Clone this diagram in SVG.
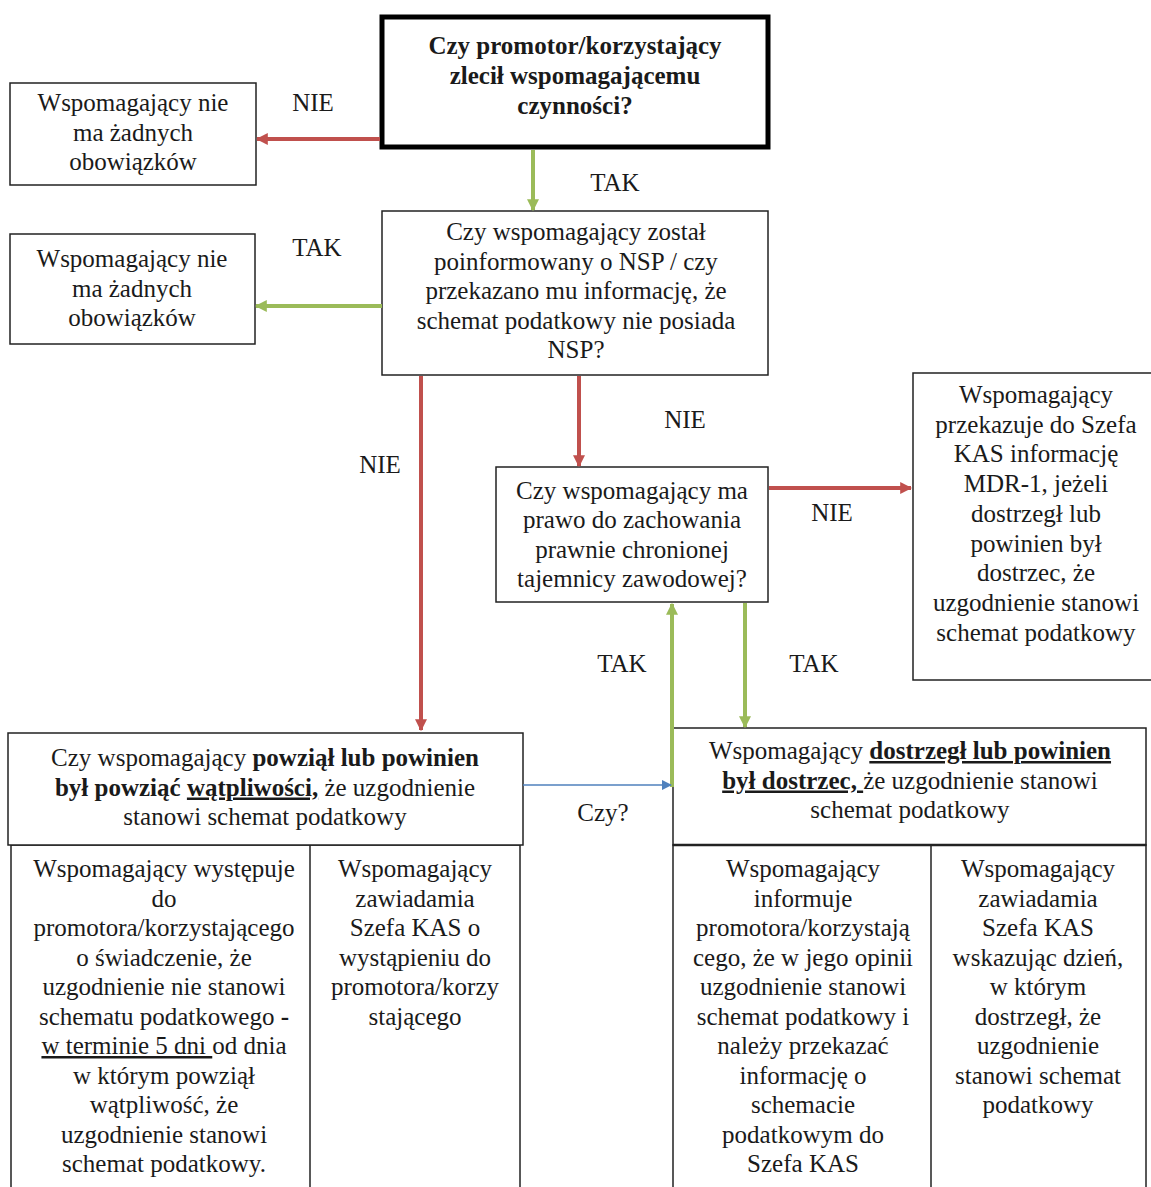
<svg xmlns="http://www.w3.org/2000/svg" width="1151" height="1187" viewBox="0 0 1151 1187">
<style>
.t{font-family:"Liberation Serif","Times New Roman",serif;font-size:25px;fill:#1a1a1a;text-anchor:middle}
.b{font-weight:bold}
.u{text-decoration:underline}
.box{fill:#fff;stroke:#222;stroke-width:1.5}
.red{stroke:#c0504d;stroke-width:4;fill:none}
.grn{stroke:#9bbb59;stroke-width:4;fill:none}
.blu{stroke:#4f81bd;stroke-width:1.5;fill:none}
</style>
<defs>
<marker id="ar" viewBox="0 0 10 10" refX="9" refY="5" markerWidth="3" markerHeight="3" orient="auto"><path d="M0,0 L10,5 L0,10 z" fill="#c0504d"/></marker>
<marker id="ag" viewBox="0 0 10 10" refX="9" refY="5" markerWidth="3" markerHeight="3" orient="auto"><path d="M0,0 L10,5 L0,10 z" fill="#9bbb59"/></marker>
<marker id="ab" viewBox="0 0 10 10" refX="9" refY="5" markerWidth="7" markerHeight="7" orient="auto"><path d="M0,0 L10,5 L0,10 z" fill="#4f81bd"/></marker>
</defs>
<rect width="1151" height="1187" fill="#fff"/>

<g id="n-top">
<rect x="382" y="17" width="386" height="130" fill="#fff" stroke="#000" stroke-width="5"/>
<text class="t b" x="575" y="54">Czy promotor/korzystający</text>
<text class="t b" x="575" y="84">zlecił wspomagającemu</text>
<text class="t b" x="575" y="114">czynności?</text>
</g>

<g id="n-left1">
<rect class="box" x="10" y="83" width="246" height="102"/>
<text class="t" x="133" y="111">Wspomagający nie</text>
<text class="t" x="133" y="140.5">ma żadnych</text>
<text class="t" x="133" y="170">obowiązków</text>
</g>

<g id="n-q2">
<rect class="box" x="382" y="211" width="386" height="164"/>
<text class="t" x="576" y="240">Czy wspomagający został</text>
<text class="t" x="576" y="269.5">poinformowany o NSP / czy</text>
<text class="t" x="576" y="299">przekazano mu informację, że</text>
<text class="t" x="576" y="328.5">schemat podatkowy nie posiada</text>
<text class="t" x="576" y="358">NSP?</text>
</g>

<g id="n-left2">
<rect class="box" x="10" y="234" width="245" height="110"/>
<text class="t" x="132" y="267">Wspomagający nie</text>
<text class="t" x="132" y="296.5">ma żadnych</text>
<text class="t" x="132" y="326">obowiązków</text>
</g>

<g id="n-q3">
<rect class="box" x="496" y="467" width="272" height="135"/>
<text class="t" x="632" y="499">Czy wspomagający ma</text>
<text class="t" x="632" y="528">prawo do zachowania</text>
<text class="t" x="632" y="557.5">prawnie chronionej</text>
<text class="t" x="632" y="587">tajemnicy zawodowej?</text>
</g>

<g id="n-right">
<rect class="box" x="913" y="373" width="240" height="307"/>
<text class="t" x="1036" y="403">Wspomagający</text>
<text class="t" x="1036" y="432.7">przekazuje do Szefa</text>
<text class="t" x="1036" y="462.4">KAS informację</text>
<text class="t" x="1036" y="492.1">MDR-1, jeżeli</text>
<text class="t" x="1036" y="521.8">dostrzegł lub</text>
<text class="t" x="1036" y="551.5">powinien był</text>
<text class="t" x="1036" y="581.2">dostrzec, że</text>
<text class="t" x="1036" y="610.9">uzgodnienie stanowi</text>
<text class="t" x="1036" y="640.6">schemat podatkowy</text>
</g>

<g id="n-bl">
<rect class="box" x="11" y="845" width="509" height="350"/>
<line x1="310" y1="845" x2="310" y2="1190" stroke="#222" stroke-width="1.5"/>
<rect class="box" x="8" y="733" width="515" height="112"/>
<text class="t" x="265" y="766">Czy wspomagający <tspan class="b">powziął lub powinien</tspan></text>
<text class="t" x="265" y="795.5"><tspan class="b">był powziąć </tspan><tspan class="b u">wątpliwości,</tspan> że uzgodnienie</text>
<text class="t" x="265" y="825">stanowi schemat podatkowy</text>
<text class="t" x="164" y="877">Wspomagający występuje</text>
<text class="t" x="164" y="906.5">do</text>
<text class="t" x="164" y="936">promotora/korzystającego</text>
<text class="t" x="164" y="965.5">o świadczenie, że</text>
<text class="t" x="164" y="995">uzgodnienie nie stanowi</text>
<text class="t" x="164" y="1024.5">schematu podatkowego <tspan class="b">-</tspan></text>
<text class="t" x="164" y="1054"><tspan class="u">w terminie 5 dni </tspan>od dnia</text>
<text class="t" x="164" y="1083.5">w którym powziął</text>
<text class="t" x="164" y="1113">wątpliwość, że</text>
<text class="t" x="164" y="1142.5">uzgodnienie stanowi</text>
<text class="t" x="164" y="1172">schemat podatkowy.</text>
<text class="t" x="415" y="877">Wspomagający</text>
<text class="t" x="415" y="906.5">zawiadamia</text>
<text class="t" x="415" y="936">Szefa KAS o</text>
<text class="t" x="415" y="965.5">wystąpieniu do</text>
<text class="t" x="415" y="995">promotora/korzy</text>
<text class="t" x="415" y="1024.5">stającego</text>
</g>

<g id="n-br">
<rect class="box" x="673" y="845" width="473" height="350"/>
<line x1="931" y1="845" x2="931" y2="1190" stroke="#222" stroke-width="1.5"/>
<rect class="box" x="673" y="728" width="473" height="117"/>
<line x1="673" y1="845" x2="1146" y2="845" stroke="#222" stroke-width="2.5"/>
<text class="t" x="910" y="759">Wspomagający <tspan class="b u">dostrzegł lub powinien</tspan></text>
<text class="t" x="910" y="788.5"><tspan class="b u">był dostrzec, </tspan>że uzgodnienie stanowi</text>
<text class="t" x="910" y="818">schemat podatkowy</text>
<text class="t" x="803" y="877">Wspomagający</text>
<text class="t" x="803" y="906.5">informuje</text>
<text class="t" x="803" y="936">promotora/korzystają</text>
<text class="t" x="803" y="965.5">cego, że w jego opinii</text>
<text class="t" x="803" y="995">uzgodnienie stanowi</text>
<text class="t" x="803" y="1024.5">schemat podatkowy i</text>
<text class="t" x="803" y="1054">należy przekazać</text>
<text class="t" x="803" y="1083.5">informację o</text>
<text class="t" x="803" y="1113">schemacie</text>
<text class="t" x="803" y="1142.5">podatkowym do</text>
<text class="t" x="803" y="1172">Szefa KAS</text>
<text class="t" x="1038" y="877">Wspomagający</text>
<text class="t" x="1038" y="906.5">zawiadamia</text>
<text class="t" x="1038" y="936">Szefa KAS</text>
<text class="t" x="1038" y="965.5">wskazując dzień,</text>
<text class="t" x="1038" y="995">w którym</text>
<text class="t" x="1038" y="1024.5">dostrzegł, że</text>
<text class="t" x="1038" y="1054">uzgodnienie</text>
<text class="t" x="1038" y="1083.5">stanowi schemat</text>
<text class="t" x="1038" y="1113">podatkowy</text>
</g>

<g id="connectors">
<line class="red" x1="380" y1="139" x2="257" y2="139" marker-end="url(#ar)"/>
<line class="grn" x1="533" y1="150" x2="533" y2="210" marker-end="url(#ag)"/>
<line class="grn" x1="382" y1="306" x2="256" y2="306" marker-end="url(#ag)"/>
<line class="red" x1="421" y1="376" x2="421" y2="730" marker-end="url(#ar)"/>
<line class="red" x1="579" y1="376" x2="579" y2="466" marker-end="url(#ar)"/>
<line class="red" x1="769" y1="488" x2="911" y2="488" marker-end="url(#ar)"/>
<line class="grn" x1="672" y1="787" x2="672" y2="604" marker-end="url(#ag)"/>
<line class="grn" x1="745" y1="603" x2="745" y2="727" marker-end="url(#ag)"/>
<line class="blu" x1="523" y1="785" x2="671" y2="785" marker-end="url(#ab)"/>
<text class="t" x="313" y="111">NIE</text>
<text class="t" x="615" y="191">TAK</text>
<text class="t" x="317" y="256">TAK</text>
<text class="t" x="380" y="473">NIE</text>
<text class="t" x="685" y="428">NIE</text>
<text class="t" x="832" y="521">NIE</text>
<text class="t" x="622" y="672">TAK</text>
<text class="t" x="814" y="672">TAK</text>
<text class="t" x="603" y="821">Czy?</text>
</g>
</svg>
